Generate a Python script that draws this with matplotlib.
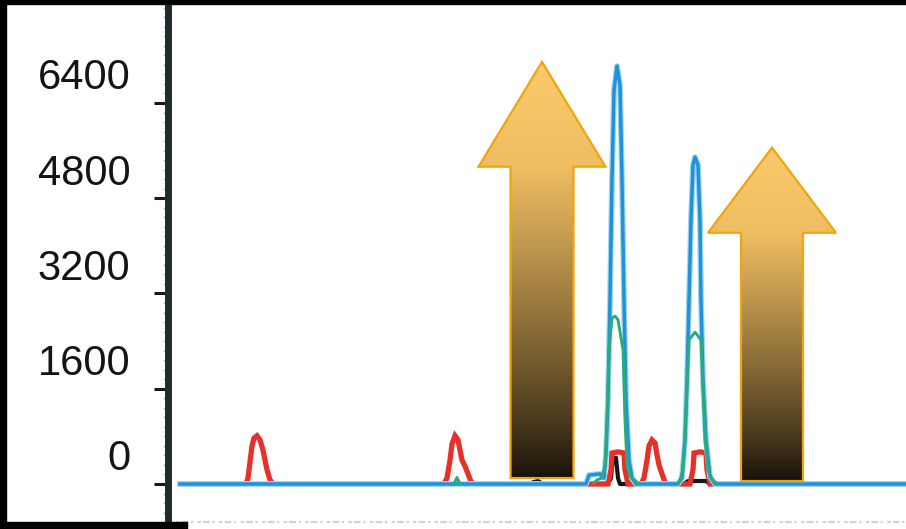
import numpy as np
import matplotlib.pyplot as plt
import matplotlib.patheffects as pe
from matplotlib.patches import Polygon, Rectangle
from matplotlib.transforms import ScaledTranslation

plt.rcParams['font.family'] = ['Liberation Sans', 'DejaVu Sans']

# intensity axis (RFU)
yticks = [0, 1600, 3200, 4800, 6400]

# electropherogram traces: scan position vs RFU
blue_x = [12, 418, 421, 432, 436, 438, 440, 442, 444, 446, 449, 452, 454, 456, 458, 461, 464, 468,
          510, 514, 517, 519, 521, 523, 525, 527, 530, 532, 533, 535, 538, 542, 547, 738]
blue_y = [0, 0, 150, 170, 100, 490, 1410, 3090, 5110, 6620, 7020, 6700, 5110, 3090, 1410, 400, 100, 0,
          0, 100, 740, 1750, 3090, 4440, 5360, 5490, 5360, 4440, 3090, 1750, 740, 130, 0, 0]

# green channel only where it rises above the blue baseline (nan = gap)
green_x = [286, 289, 292, np.nan,
           426, 429, 434, 437, 439, 441, 444, 447, 450, 455, 457, 459, 462, 466, 470, np.nan,
           510, 512, 515, 517, 519, 521, 527, 533, 535, 537, 540, 544, 548]
green_y = [0, 110, 0, np.nan,
           20, 70, 100, 320, 1080, 2250, 2790, 2820, 2760, 2250, 1080, 320, 130, 70, 20, np.nan,
           20, 70, 240, 740, 1580, 2420, 2550, 2420, 1580, 740, 240, 70, 20]

red_x = [12, 78, 80, 82, 84, 86, 89, 92, 95, 97, 99, 102, 105, 108,
         276, 279, 282, 284, 287, 290, 292, 294, 297, 300, 303, 306,
         440, 443, 444, 450, 456, 457, 460,
         473, 476, 479, 481, 484, 487, 489, 491, 494, 497, 499,
         522, 525, 526, 532, 538, 539, 542, 738]
red_y = [0, 0, 100, 370, 640, 770, 810, 740, 570, 400, 240, 70, 0, 0,
         0, 100, 400, 670, 810, 740, 570, 400, 300, 170, 40, 0,
         0, 240, 520, 540, 520, 240, 0,
         0, 100, 400, 640, 740, 690, 490, 320, 170, 30, 0,
         0, 240, 520, 540, 520, 240, 0, 0]

black_x = [12, 362, 365, 370, 375, 440, 443, 445, 448, 450, 452, 516, 520, 538, 542, 738]
black_y = [0, 0, 30, 50, 0, 0, 100, 440, 440, 100, 0, 0, 50, 50, 0, 0]

# block arrows: centre, base, neck, tip, half widths
arrow_x = [374, 604]
arrow_base = [100, 50]
arrow_neck = [5330, 4220]
arrow_tip = [7090, 5650]
shaft_half = [31.5, 31]
head_half = [63.5, 64]


def arrow_outline(cx, base, neck, tip, sh, hh):
    return [(cx - sh, base), (cx + sh, base), (cx + sh, neck), (cx + hh, neck),
            (cx, tip), (cx - hh, neck), (cx - sh, neck)]


def arrow_colors(base, neck, tip, n=500):
    ys = np.linspace(base, tip, n)
    t = np.clip((ys - base) / (neck - base), 0, 1) ** 0.85
    dark = np.array([22, 16, 8]) / 255
    light = np.array([240, 190, 98]) / 255
    top = np.array([250, 202, 108]) / 255
    cols = dark + (light - dark) * t[:, None]
    head = ys > neck
    ht = (ys[head] - neck) / (tip - neck)
    cols[head] = light + (top - light) * ht[:, None]
    return cols[:, None, :]


fig = plt.figure(figsize=(9.06, 5.29), dpi=100)
ax = fig.add_axes([168 / 906, 0, 738 / 906, 525 / 529])

halo = [pe.Stroke(linewidth=4.2, foreground='#9dd8f3'), pe.Normal()]
ax.plot(black_x, black_y, color='#161616', lw=3, zorder=2, solid_joinstyle='round')
ax.plot(red_x, red_y, color='#e8302a', lw=3.8, zorder=3, solid_joinstyle='miter')
ax.plot(blue_x, blue_y, color='#2391d7', lw=2.5, zorder=4, path_effects=halo,
        solid_joinstyle='round')
ax.plot(green_x, green_y, color='#2aac7a', lw=2.1, zorder=5, solid_joinstyle='round')

# blurred size labels along the bottom edge
ax.plot([8, 738], [-640, -640], color='#d2d2d2', lw=1.6, dashes=(1.5, 1, 3, 1.2, 1, 2),
        zorder=1)

for cx, b, n, t, sh, hh in zip(arrow_x, arrow_base, arrow_neck, arrow_tip, shaft_half, head_half):
    poly = Polygon(arrow_outline(cx, b, n, t, sh, hh), closed=True, facecolor='none',
                   edgecolor='#f2a40c', lw=1.6, zorder=7, joinstyle='miter')
    ax.add_patch(poly)
    im = ax.imshow(arrow_colors(b, n, t), extent=[cx - hh, cx + hh, b, t], origin='lower',
                   aspect='auto', zorder=6, interpolation='bilinear')
    im.set_clip_path(poly)

ax.set_xlim(0, 738)
ax.set_ylim(-756, 8063)
ax.set_facecolor('white')

for side in ['top', 'right', 'bottom']:
    ax.spines[side].set_visible(False)
ax.spines['left'].set_linewidth(5)
ax.spines['left'].set_color('#1f2c2b')
ax.set_xticks([])
ax.set_yticks(yticks)
ax.set_yticks(np.arange(-640, 8063, 160), minor=True)
ax.tick_params(axis='y', which='major', direction='out', length=10, width=2.2,
               color='#1a1a1a', pad=17, labelsize=30, labelcolor='#141414')
ax.tick_params(axis='y', which='minor', direction='out', length=3, width=1, color='#3a4a48')
shift = ScaledTranslation(0, 0.29, fig.dpi_scale_trans)
for lab in ax.get_yticklabels():
    lab.set_transform(lab.get_transform() + shift)

# black frame around the screenshot
for x0, y0, w, h in [(0, 0, 6, 529), (0, 525, 906, 4), (0, 0, 187, 7)]:
    fig.patches.append(Rectangle((x0 / 906, y0 / 529), w / 906, h / 529,
                                 transform=fig.transFigure, color='black', zorder=10))

fig.savefig('out.png', dpi=100, facecolor='white')
